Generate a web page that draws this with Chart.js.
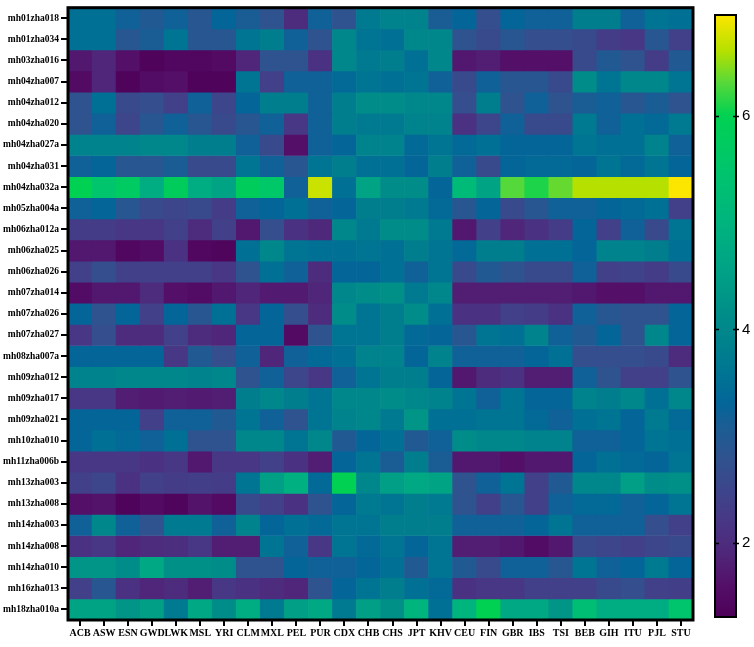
<!DOCTYPE html>
<html>
<head>
<meta charset="utf-8">
<script src="https://cdn.jsdelivr.net/npm/chart.js@4/dist/chart.umd.min.js"></script>
<style>
  html, body { margin: 0; padding: 0; background: #fff; }
  #wrap { position: relative; width: 754px; height: 647px; }
  #heat { position: absolute; left: 0; top: 0; }
  #bar { position: absolute; left: 700px; top: 0; }
</style>
</head>
<body>
<div id="wrap">
  <canvas id="heat" width="754" height="647"></canvas>
  <canvas id="bar" width="54" height="647"></canvas>
</div>
<script>
const populations = ["ACB", "ASW", "ESN", "GWD", "LWK", "MSL", "YRI", "CLM", "MXL", "PEL", "PUR",
  "CDX", "CHB", "CHS", "JPT", "KHV", "CEU", "FIN", "GBR", "IBS", "TSI", "BEB", "GIH", "ITU", "PJL", "STU"];

const markers = ["mh01zha018", "mh01zha034", "mh03zha016", "mh04zha007", "mh04zha012", "mh04zha020",
  "mh04zha027a", "mh04zha031", "mh04zha032a", "mh05zha004a", "mh06zha012a", "mh06zha025",
  "mh06zha026", "mh07zha014", "mh07zha026", "mh07zha027", "mh08zha007a", "mh09zha012",
  "mh09zha017", "mh09zha021", "mh10zha010", "mh11zha006b", "mh13zha003", "mh13zha008",
  "mh14zha003", "mh14zha008", "mh14zha010", "mh16zha013", "mh18zha010a"];

// one row per marker, one value per population (same order as above)
const values = [
  [3.5,3.5,3.2,3.0,3.2,2.9,3.3,3.1,2.8,2.0,3.2,2.8,3.7,3.9,3.9,3.1,3.3,2.7,3.3,3.2,3.2,3.8,3.8,3.2,3.6,3.5],
  [3.5,3.5,2.9,3.1,3.6,2.9,2.9,3.6,3.8,3.2,2.8,4.0,3.6,3.5,4.0,4.0,2.8,2.6,2.9,2.7,2.7,2.6,2.3,2.2,2.9,2.4],
  [1.7,1.9,1.6,1.35,1.45,1.45,1.5,1.9,2.8,2.8,2.1,4.0,3.7,3.8,3.5,4.0,1.7,1.8,1.6,1.6,1.6,2.6,3.0,2.8,2.3,3.0],
  [1.5,1.9,1.35,1.55,1.6,1.35,1.35,3.6,2.4,3.2,3.2,3.4,3.6,3.5,3.6,3.2,2.6,3.2,2.9,2.9,2.6,4.1,3.6,4.0,4.0,3.6],
  [2.8,3.5,2.6,2.7,2.4,3.2,2.5,3.3,3.8,3.8,3.2,3.8,4.1,4.1,4.0,4.0,2.7,3.8,2.8,3.2,2.8,3.1,3.2,2.9,3.1,2.8],
  [2.8,3.2,2.5,2.9,3.2,2.9,2.6,2.9,3.2,2.2,3.2,3.8,3.7,3.7,3.9,3.9,2.1,2.5,3.2,2.6,2.6,3.7,3.2,3.5,3.4,3.7],
  [3.9,3.9,3.9,4.0,4.0,3.8,3.8,3.2,2.6,1.6,3.2,3.3,3.9,3.9,3.4,3.6,3.4,3.5,3.3,3.3,3.3,3.6,3.5,3.5,3.9,3.2],
  [3.2,3.3,2.9,2.9,3.1,2.6,2.6,3.6,3.2,2.9,3.6,3.8,3.5,3.5,3.3,3.8,3.2,2.6,3.3,3.4,3.4,3.3,3.6,3.4,3.6,3.3],
  [6.0,5.5,5.7,4.8,5.8,4.8,4.6,5.8,5.6,3.2,6.7,3.5,4.6,4.1,4.1,3.3,5.2,4.6,6.3,6.1,6.35,6.6,6.6,6.6,6.6,6.95],
  [3.2,3.3,2.9,2.6,2.5,2.6,2.3,3.2,3.3,3.5,3.2,3.3,3.8,3.8,3.7,3.4,2.9,3.3,2.6,2.9,3.2,3.2,3.3,3.4,3.5,2.4],
  [2.3,2.3,2.2,2.2,2.4,2.0,2.4,1.7,2.7,2.1,1.95,4.0,3.7,4.1,4.1,3.7,1.7,2.4,1.9,2.1,2.3,3.3,2.4,3.2,2.6,3.6],
  [1.7,1.7,1.45,1.55,2.1,1.45,1.4,3.5,4.0,3.6,3.5,3.5,3.6,3.5,3.8,3.6,3.4,3.8,3.8,3.5,3.5,3.3,3.9,3.9,3.8,3.5],
  [2.4,2.7,2.4,2.4,2.4,2.4,2.2,2.8,3.5,3.2,2.0,3.3,3.3,3.5,3.2,3.6,2.6,3.0,2.8,2.6,2.6,3.2,2.4,2.45,2.3,2.6],
  [1.55,1.7,1.7,2.0,1.6,1.55,1.7,1.9,1.75,1.75,1.9,4.0,4.1,4.2,3.7,4.0,1.8,1.8,1.8,1.8,1.8,1.7,1.6,1.6,1.7,1.7],
  [3.3,2.8,3.3,2.4,3.3,2.9,3.5,2.2,3.3,2.7,2.0,4.1,3.6,3.8,4.1,3.5,2.1,2.1,2.4,2.3,2.1,3.2,2.9,2.8,2.8,3.3],
  [2.2,2.7,2.0,2.0,2.4,2.0,1.9,3.3,3.3,1.5,2.8,3.6,3.6,3.8,3.4,3.3,2.9,3.6,3.5,3.9,3.2,3.0,3.3,2.8,4.0,3.3],
  [3.3,3.3,3.3,3.3,2.2,3.0,2.7,3.2,1.9,3.2,3.4,3.5,3.9,3.9,3.3,3.9,3.2,3.2,3.2,3.3,3.5,2.7,2.7,2.7,2.6,2.0],
  [3.9,3.9,4.0,4.0,4.0,3.9,4.0,2.8,3.2,2.5,2.2,3.2,3.6,3.8,3.8,3.3,1.7,2.0,2.1,1.8,1.8,3.2,2.8,2.4,2.4,2.8],
  [2.2,2.2,1.8,1.75,1.8,1.75,1.8,3.8,4.0,3.8,3.6,4.0,4.0,4.1,4.0,3.9,3.6,3.2,3.6,3.3,3.3,3.9,3.8,4.0,3.5,4.0],
  [3.3,3.3,3.3,2.4,3.2,3.2,3.0,3.6,3.2,2.8,3.6,3.9,4.0,3.7,4.3,3.5,3.5,3.6,3.6,3.4,3.2,3.5,3.6,3.3,3.7,3.4],
  [3.3,3.5,3.4,3.2,3.5,2.8,2.8,4.0,4.0,3.6,4.0,3.0,3.3,3.5,3.0,3.2,4.1,4.0,4.0,3.9,3.9,3.2,3.2,3.3,3.6,3.5],
  [2.2,2.2,2.2,2.1,2.2,1.7,2.2,2.2,2.4,2.1,1.8,3.3,3.6,3.1,3.8,3.1,1.7,1.7,1.6,1.7,1.7,3.3,3.5,3.4,3.3,3.6],
  [2.4,2.5,2.1,2.4,2.3,2.35,2.3,3.6,4.5,4.9,3.4,6.0,4.0,4.5,4.7,4.6,2.8,3.2,3.6,2.4,3.0,4.0,4.0,4.5,4.1,4.2],
  [1.6,1.65,1.35,1.5,1.4,1.65,1.5,2.6,2.4,2.1,2.8,3.3,3.7,3.6,3.8,3.7,2.8,2.4,2.9,2.4,3.2,3.4,3.4,3.2,3.3,3.6],
  [3.2,4.0,3.2,2.8,3.7,3.7,3.2,3.9,3.3,3.5,3.4,3.6,3.6,3.8,3.8,3.8,3.2,3.2,3.2,3.3,3.6,3.2,3.2,3.2,2.7,2.4],
  [2.1,2.2,1.9,2.0,2.05,2.2,1.8,1.8,3.6,3.2,2.2,3.6,3.4,3.6,3.3,3.6,1.8,1.8,1.7,1.55,1.7,2.6,2.5,2.4,2.5,2.6],
  [4.3,4.3,4.1,4.7,4.2,4.2,4.1,2.8,2.8,3.3,3.2,3.2,3.3,3.5,3.0,3.6,3.0,2.6,3.2,3.2,2.9,3.6,3.2,3.3,3.7,3.3],
  [2.4,2.9,2.1,1.9,2.0,1.8,2.2,2.1,2.0,1.9,2.8,3.3,3.6,3.8,3.5,3.4,2.1,2.2,2.2,2.4,2.4,2.4,2.6,2.7,2.4,2.35],
  [4.6,4.6,4.3,4.5,3.7,4.7,4.1,4.8,3.7,4.5,4.7,3.7,4.5,4.2,5.0,3.5,5.0,6.0,4.7,4.7,4.3,5.3,4.8,4.8,4.8,5.5],
];

const colorMin = 1.31;
const colorMax = 6.94;
const colorTicks = [2, 4, 6];

// viridis-like palette as sampled from the colour bar
const palette = [
  [1.3, "#4e0058"], [1.6, "#540f68"], [1.9, "#4f2679"], [2.2, "#483785"],
  [2.5, "#3d458b"], [2.8, "#2f538f"], [3.1, "#1a5d94"], [3.3, "#046599"],
  [3.6, "#007593"], [3.9, "#00838c"], [4.2, "#009088"], [4.6, "#00a485"],
  [5.0, "#00b47e"], [5.5, "#00c56c"], [6.0, "#00d152"], [6.3, "#55d83a"],
  [6.6, "#b5e000"], [6.95, "#fce600"],
];

function hexToRgb(h) {
  return [1, 3, 5].map((i) => parseInt(h.slice(i, i + 2), 16));
}

function colorFor(v) {
  if (v <= palette[0][0]) return palette[0][1];
  for (let i = 1; i < palette.length; i++) {
    if (v <= palette[i][0]) {
      const [v0, c0] = palette[i - 1];
      const [v1, c1] = palette[i];
      const t = (v - v0) / (v1 - v0);
      const a = hexToRgb(c0), b = hexToRgb(c1);
      const rgb = a.map((x, k) => Math.round(x + (b[k] - x) * t));
      return `rgb(${rgb[0]}, ${rgb[1]}, ${rgb[2]})`;
    }
  }
  return palette[palette.length - 1][1];
}

const frame = (width) => ({
  id: "frame",
  afterDraw(chart) {
    const { ctx, chartArea: a } = chart;
    ctx.save();
    ctx.strokeStyle = "#000";
    ctx.lineWidth = width;
    ctx.strokeRect(a.left, a.top, a.right - a.left, a.bottom - a.top);
    ctx.restore();
  },
});

const serif = "'Liberation Serif', 'DejaVu Serif', serif";

new Chart("heat", {
  type: "bar",
  data: {
    labels: populations,
    datasets: markers.map((m, r) => ({
      label: m,
      data: populations.map(() => 1),
      backgroundColor: values[r].map(colorFor),
      borderWidth: 0,
      barPercentage: 1,
      categoryPercentage: 1,
    })),
  },
  plugins: [frame(3)],
  options: {
    responsive: false,
    animation: false,
    events: [],
    layout: { padding: { top: 2, right: 61, left: 0, bottom: 0 } },
    scales: {
      x: {
        stacked: true,
        grid: { offset: false, drawOnChartArea: false, color: "#000", lineWidth: 2, tickLength: 6 },
        border: { display: false },
        ticks: { font: { family: serif, weight: "bold", size: 10 }, color: "#000", maxRotation: 0, autoSkip: false, padding: 1 },
        afterFit: (s) => { s.height = 27; },
      },
      y: {
        stacked: true,
        min: 0,
        max: markers.length,
        reverse: true,
        afterBuildTicks: (s) => { s.ticks = markers.map((_, i) => ({ value: i + 0.5 })); },
        grid: { drawOnChartArea: false, color: "#000", lineWidth: 2, tickLength: 7 },
        border: { display: false },
        ticks: { font: { family: serif, weight: "bold", size: 9.5 }, color: "#000", padding: 2, callback: (v, i) => markers[i] },
        afterFit: (s) => { s.width = 68; },
      },
    },
    plugins: { legend: { display: false }, tooltip: { enabled: false } },
  },
});

const barTicks = {
  id: "barTicks",
  afterDraw(chart) {
    const { ctx, chartArea: a, scales } = chart;
    ctx.save();
    ctx.strokeStyle = "#000";
    ctx.lineWidth = 1.5;
    colorTicks.forEach((t) => {
      const y = Math.round(scales.y.getPixelForValue(t)) + 0.5;
      ctx.beginPath();
      ctx.moveTo(a.left, y); ctx.lineTo(a.left + 4, y);
      ctx.moveTo(a.right - 3, y); ctx.lineTo(a.right + 3, y);
      ctx.stroke();
    });
    ctx.restore();
  },
};

new Chart("bar", {
  type: "bar",
  data: {
    labels: [""],
    datasets: [{
      data: [[colorMin, colorMax]],
      barPercentage: 1,
      categoryPercentage: 1,
      borderWidth: 0,
      backgroundColor: (c) => {
        const { chart } = c;
        if (!chart.chartArea) return palette[0][1];
        const y = chart.scales.y;
        const g = chart.ctx.createLinearGradient(0, y.getPixelForValue(colorMin), 0, y.getPixelForValue(colorMax));
        palette.forEach(([v, col]) => {
          g.addColorStop(Math.min(1, Math.max(0, (v - colorMin) / (colorMax - colorMin))), col);
        });
        return g;
      },
    }],
  },
  plugins: [frame(2), barTicks],
  options: {
    responsive: false,
    animation: false,
    events: [],
    layout: { padding: { top: 3, left: 15, right: 0, bottom: 30 } },
    scales: {
      x: { display: false },
      y: {
        position: "right",
        min: colorMin,
        max: colorMax,
        afterBuildTicks: (s) => { s.ticks = colorTicks.map((v) => ({ value: v })); },
        grid: { display: false, drawTicks: false },
        border: { display: false },
        ticks: { font: { family: "'Liberation Sans', Arial, sans-serif", size: 15 }, color: "#000", padding: 6 },
        afterFit: (s) => { s.width = 18; },
      },
    },
    plugins: { legend: { display: false }, tooltip: { enabled: false } },
  },
});
</script>
</body>
</html>
